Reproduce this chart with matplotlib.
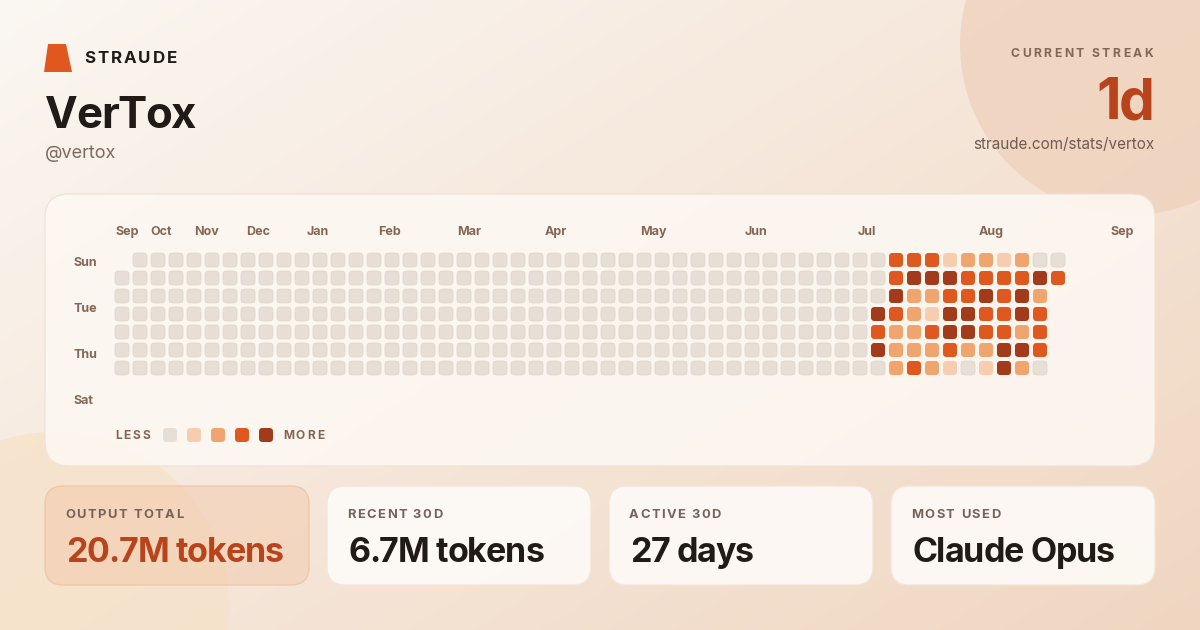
import matplotlib
matplotlib.use('Agg')
import matplotlib.pyplot as plt
import numpy as np
from matplotlib.patches import FancyBboxPatch, Circle, Polygon

plt.rcParams['font.family'] = ['Inter', 'DejaVu Sans']

# ---- data ----
user_name = 'VerTox'
user_handle = '@vertox'
brand = 'STRAUDE'
streak_label = 'CURRENT STREAK'
streak_value = '1d'
profile_url = 'straude.com/stats/vertox'

n_weeks = 53
first_week_start = 1      # first column starts on Monday
last_week_days = 2        # last column has Sun + Mon only
first_active_week = 42
# activity level per day (Sun..Sat) for weeks 42..52, all earlier weeks are 0
active_weeks = [
    [0, 0, 0, 4, 3, 4, 0],
    [3, 3, 4, 3, 2, 2, 2],
    [3, 4, 2, 2, 2, 2, 3],
    [3, 4, 2, 1, 3, 2, 2],
    [1, 4, 3, 4, 4, 3, 1],
    [2, 3, 3, 4, 4, 2, 0],
    [2, 3, 4, 3, 3, 2, 1],
    [1, 3, 3, 3, 3, 4, 4],
    [2, 3, 4, 4, 2, 4, 2],
    [0, 4, 2, 3, 3, 3, 0],
    [0, 3],
]
month_names = ['Sep', 'Oct', 'Nov', 'Dec', 'Jan', 'Feb', 'Mar', 'Apr',
               'May', 'Jun', 'Jul', 'Aug', 'Sep']
month_weeks = [0, 1.94, 4.39, 7.28, 10.67, 14.61, 19.0, 23.89,
               29.17, 35.0, 41.28, 48.0, 55.33]
day_names = ['Sun', 'Tue', 'Thu', 'Sat']

stat_labels = ['OUTPUT TOTAL', 'RECENT 30D', 'ACTIVE 30D', 'MOST USED']
stat_values = ['20.7M tokens', '6.7M tokens', '27 days', 'Claude Opus']

level_colors = ['#e7dfd5', '#f7cdb0', '#f1a56e', '#df5820', '#a23b1b']
ORANGE = '#e0571f'
RUST = '#b8441c'
INK = '#211a16'
MUTED = '#846656'

W, H = 1200, 630
fig = plt.figure(figsize=(W / 100, H / 100), dpi=100)
bg = fig.add_axes([0, 0, 1, 1])

# background gradient + blobs
yy, xx = np.mgrid[0:H, 0:W]
t = np.clip(xx / W * 0.55 + yy / H * 0.45, 0, 1)[..., None]
c0 = np.array([251, 247, 242]) / 255
c1 = np.array([240, 214, 193]) / 255
bg.imshow(c0 + (c1 - c0) * t, extent=(0, W, H, 0), zorder=0, aspect='auto')
bg.add_patch(Circle((1130, 45), 170, fc='#efd2bd', ec='none', alpha=0.8, zorder=1))
bg.add_patch(Circle((55, 606), 174, fc='#f6e2c9', ec='none', alpha=0.8, zorder=1))
bg.set_xlim(0, W)
bg.set_ylim(H, 0)
bg.axis('off')

renderer = fig.canvas.get_renderer()


def ink_width(ax, txt, **kw):
    if not txt.strip():
        return 0
    t = ax.text(0, 0, txt, **kw)
    w = t.get_window_extent(renderer).width
    t.remove()
    return w


def tracked(ax, x, y, s, track, ha='left', px=1.0, **kw):
    """Draw text with extra letter spacing (track in pixels, may be negative)."""
    total = ink_width(ax, s, **kw) + track * (len(s) - 1)
    x0 = x - total / px if ha == 'right' else x
    for i, ch in enumerate(s):
        if ch == ' ':
            continue
        off = ink_width(ax, s[:i + 1], **kw) - ink_width(ax, ch, **kw) + i * track
        ax.text(x0 + off / px, y, ch, ha='left', va='baseline', **kw)


# header
bg.add_patch(Polygon([(48, 44), (66, 44), (72, 72), (44, 72)], closed=True,
                     fc=ORANGE, ec='none', zorder=3))
tracked(bg, 84, 63, brand, 2.0, fontsize=12.2, fontweight='bold', color=INK, zorder=3)
tracked(bg, 45, 128, user_name, -1.5, fontsize=31.5, fontweight='bold', color=INK, zorder=3)
bg.text(45, 158, user_handle, fontsize=13, color='#7d6a5f', va='baseline', zorder=3)

tracked(bg, 1153, 57, streak_label, 2.4, ha='right', fontsize=8.8,
        fontweight='bold', color=MUTED, zorder=3)
tracked(bg, 1155, 119, streak_value, -2.0, ha='right', fontsize=41,
        fontweight='bold', color=RUST, zorder=3)
bg.text(1155, 149, profile_url, fontsize=11.0, color='#6f5d53', ha='right',
        va='baseline', zorder=3)

# heatmap card
bg.add_patch(FancyBboxPatch((45, 194), 1110, 272, boxstyle='round,pad=0,rounding_size=24',
                            fc='#fdf8f3', ec='#eee2d6', lw=1, alpha=0.88, zorder=2))

# stat cards
for i, (lab, val) in enumerate(zip(stat_labels, stat_values)):
    x0 = 45 + i * 282
    if i == 0:
        fc, ec, vc, a = '#f3cdb2', '#eeb896', RUST, 0.6
    else:
        fc, ec, vc, a = '#fdfaf6', '#f1e5da', INK, 0.92
    bg.add_patch(FancyBboxPatch((x0, 486), 264, 99, boxstyle='round,pad=0,rounding_size=18',
                                fc=fc, ec=ec, lw=1, alpha=a, zorder=2))
    tracked(bg, x0 + 20, 518, lab, 1.5, fontsize=9.3, fontweight='bold',
            color='#76625a', zorder=3)
    tracked(bg, x0 + 21, 562, val, -1.0, fontsize=24.5, fontweight='bold', color=vc,
            zorder=3)

# heatmap axes: 1 unit = 18 px, week w centre at x=122+18w, day d centre at y=260+18d
hm = fig.add_axes([45 / W, (H - 466) / H, 1110 / W, 272 / H])
hm.set_xlim((45 - 122) / 18, (1155 - 122) / 18)
hm.set_ylim((466 - 260) / 18, (194 - 260) / 18)
hm.axis('off')
hm.patch.set_alpha(0)

cell = 14 / 18
for w in range(n_weeks):
    for d in range(7):
        if w == 0 and d < first_week_start:
            continue
        if w == n_weeks - 1 and d >= last_week_days:
            continue
        lvl = 0
        if w >= first_active_week:
            lvl = active_weeks[w - first_active_week][d]
        hm.add_patch(FancyBboxPatch((w - cell / 2, d - cell / 2), cell, cell,
                                    boxstyle=f'round,pad=0,rounding_size={3.5 / 18}',
                                    fc=level_colors[lvl],
                                    ec='#ddd3c8' if lvl == 0 else 'none', lw=0.5))

for name, pos in zip(month_names, month_weeks):
    hm.text(pos - cell / 2, -25 / 18, name, ha='left', va='baseline', fontsize=9,
            fontweight='bold', color=MUTED)
for i, name in enumerate(day_names):
    hm.text(-49 / 18, 6 / 18 + i * 46 / 18, name, ha='left', va='baseline',
            fontsize=9, fontweight='bold', color=MUTED)

# legend
tracked(hm, -7 / 18, 179 / 18, 'LESS', 2.0, px=18, fontsize=8.6,
        fontweight='bold', color=MUTED)
for i, c in enumerate(level_colors):
    hm.add_patch(FancyBboxPatch((48 / 18 + i * 24 / 18 - cell / 2, 175 / 18 - cell / 2),
                                cell, cell, boxstyle=f'round,pad=0,rounding_size={3.5 / 18}',
                                fc=c, ec='none'))
tracked(hm, 161 / 18, 179 / 18, 'MORE', 2.0, px=18, fontsize=8.6,
        fontweight='bold', color=MUTED)

fig.savefig('out.png', dpi=100)
